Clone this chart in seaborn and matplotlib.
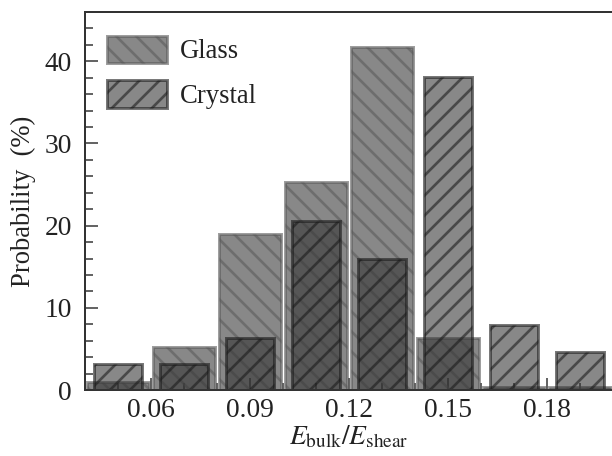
import pandas as pd
import seaborn as sns
import matplotlib.pyplot as plt
from matplotlib.patches import Patch
from matplotlib.ticker import MultipleLocator, FormatStrFormatter

# bin centres of E_bulk/E_shear and probability (%)
ratio = [0.05, 0.07, 0.09, 0.11, 0.13, 0.15, 0.17, 0.19]
glass = [1.0, 5.2, 19.0, 25.3, 41.8, 6.3, 0.4, 0.4]
crystal = [3.2, 3.2, 6.3, 20.6, 15.9, 38.1, 7.9, 4.6]
labels = ['Glass', 'Crystal']

df = pd.DataFrame({'ratio': ratio, 'Glass': glass, 'Crystal': crystal})

sns.set_style('ticks')
plt.rcParams['font.family'] = ['Liberation Serif', 'DejaVu Serif']
plt.rcParams['mathtext.fontset'] = 'stix'
plt.rcParams['hatch.linewidth'] = 1.6

face = '#333333'
alpha = 0.58
styles = {'Glass': dict(width=0.935, edge='#5a5a5a', hatch='\\\\'),
          'Crystal': dict(width=0.725, edge='#1a1a1a', hatch='//')}

fig = plt.figure(figsize=(5.1, 3.8), dpi=120)
ax = fig.add_axes([85/612, 66/456, 528/612, 378/456])

#draw both series as bars at their native x positions
for name in labels:
    st = styles[name]
    sns.barplot(data=df, x='ratio', y=name, native_scale=True, width=st['width'],
                color=face, saturation=1, errorbar=None, ax=ax)
    for p in ax.containers[-1]:
        p.set_alpha(alpha)
        p.set_edgecolor(st['edge'])
        p.set_linewidth(1.8)
        p.set_hatch(st['hatch'])

ax.set_xlim(0.04, 0.2)
ax.set_ylim(0, 46)
ax.xaxis.set_major_locator(MultipleLocator(0.03))
ax.xaxis.set_minor_locator(MultipleLocator(0.01))
ax.xaxis.set_major_formatter(FormatStrFormatter('%.2f'))
ax.yaxis.set_major_locator(MultipleLocator(10))
ax.yaxis.set_minor_locator(MultipleLocator(2))
ax.tick_params(which='both', direction='in', top=False, right=False,
               width=0.9, color='#333333', labelsize=16.5, labelcolor='#222222')
ax.tick_params(which='major', length=7.5)
ax.tick_params(which='minor', length=4.5)
ax.tick_params(axis='y', which='major', pad=8)
ax.tick_params(axis='x', which='major', pad=5)
ax.spines['right'].set_visible(False)
for s in ['left', 'bottom', 'top']:
    ax.spines[s].set_linewidth(1.2)
    ax.spines[s].set_color('#333333')

ax.set_xlabel(r'$E_{\mathrm{bulk}}/E_{\mathrm{shear}}$', fontsize=16.5, color='#222222', labelpad=0)
ax.set_ylabel('Probability  (%)', fontsize=16, color='#222222', labelpad=5)

handles = [Patch(facecolor=face, alpha=alpha, edgecolor=styles[n]['edge'],
                 linewidth=1.8, hatch=styles[n]['hatch']) for n in labels]
ax.legend(handles, labels, loc='upper left', bbox_to_anchor=(0.042, 0.937),
          frameon=False, fontsize=16, borderpad=0, borderaxespad=0,
          handlelength=2.26, handleheight=1.2, handletextpad=0.45,
          labelspacing=0.6, labelcolor='#222222')

fig.savefig('out.png', dpi=120)
